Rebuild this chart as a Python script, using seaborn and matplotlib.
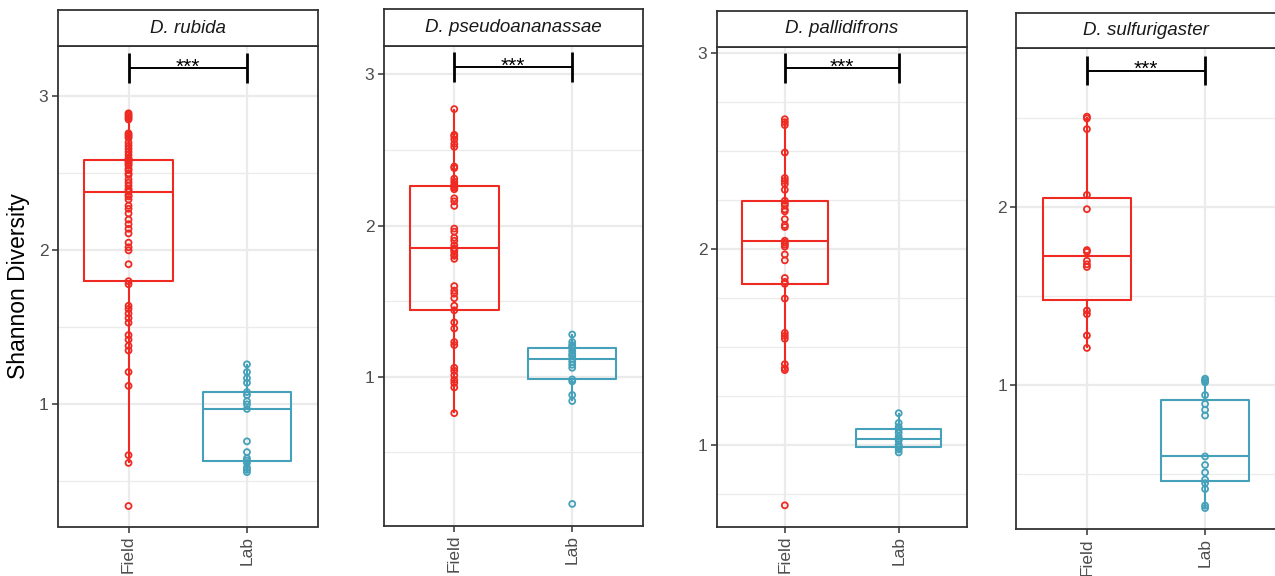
import numpy as np
import pandas as pd
import seaborn as sns
import matplotlib.pyplot as plt

# ---- data -------------------------------------------------------------
species = ["D. rubida", "D. pseudoananassae", "D. pallidifrons", "D. sulfurigaster"]
groups = ["Field", "Lab"]
signif_label = "***"
y_label = "Shannon Diversity"

rubida_field = [0.34, 0.62, 0.67, 1.12, 1.21, 1.35, 1.38, 1.42, 1.45, 1.53, 1.56, 1.59,
                1.62, 1.64, 1.78, 1.80, 1.91, 2.00, 2.02, 2.05, 2.11, 2.14, 2.17, 2.20,
                2.24, 2.27, 2.29, 2.33, 2.35, 2.36, 2.38, 2.39, 2.40, 2.42, 2.44, 2.46,
                2.49, 2.50, 2.52, 2.53, 2.55, 2.56, 2.57, 2.58, 2.585, 2.59, 2.60, 2.62,
                2.64, 2.66, 2.68, 2.70, 2.73, 2.74, 2.75, 2.76, 2.85, 2.86, 2.87, 2.88, 2.89]
rubida_lab = [0.56, 0.575, 0.59, 0.62, 0.635, 0.65, 0.69, 0.76, 0.97, 1.00, 1.02, 1.06,
              1.08, 1.14, 1.17, 1.21, 1.26]

pseudo_field = [0.76, 0.93, 0.96, 0.98, 1.01, 1.04, 1.06, 1.21, 1.23, 1.32, 1.36, 1.44,
                1.47, 1.52, 1.55, 1.57, 1.60, 1.78, 1.80, 1.81, 1.83, 1.84, 1.85,
                1.87, 1.90, 1.92, 1.96, 1.98, 2.13, 2.16, 2.18, 2.24, 2.25, 2.26,
                2.27, 2.29, 2.31, 2.38, 2.39, 2.52, 2.54, 2.57, 2.59, 2.60, 2.77]
pseudo_lab = [0.16, 0.84, 0.88, 0.97, 0.983, 1.06, 1.08, 1.10, 1.12, 1.14, 1.15, 1.17,
              1.19, 1.20, 1.21, 1.23, 1.28]

pallid_field = [0.69, 1.38, 1.39, 1.41, 1.54, 1.555, 1.57, 1.745, 1.82, 1.83, 1.85, 1.94,
                1.97, 2.01, 2.02, 2.03, 2.04, 2.11, 2.12, 2.15, 2.19, 2.20, 2.22, 2.23,
                2.244, 2.30, 2.33, 2.345, 2.36, 2.49, 2.63, 2.645, 2.66]
pallid_lab = [0.96, 0.975, 0.985, 0.99, 1.00, 1.02, 1.03, 1.04, 1.06, 1.077, 1.09, 1.11, 1.16]

sulfur_field = [1.21, 1.28, 1.40, 1.42, 1.665, 1.68, 1.70, 1.75, 1.76, 1.99, 2.07, 2.44,
                2.50, 2.51]
sulfur_lab = [0.31, 0.324, 0.417, 0.45, 0.47, 0.51, 0.552, 0.60, 0.83, 0.862, 0.895,
              0.945, 1.017, 1.027, 1.037]

field_values = [rubida_field, pseudo_field, pallid_field, sulfur_field]
lab_values = [rubida_lab, pseudo_lab, pallid_lab, sulfur_lab]

# ---- styling / layout ---------------------------------------------------
palette = {"Field": "#EE2A22", "Lab": "#44A1B9"}
W, H = 1275, 576
# panel pixel boxes: left, right, strip top, panel top, panel bottom
panel_px = [(57.5, 318.0, 10.3, 46.0, 526.5),
            (383.5, 643.0, 9.2, 46.0, 525.7),
            (716.5, 967.0, 11.0, 46.7, 526.5),
            (1016.0, 1276.0, 12.9, 47.8, 529.4)]
ylims = [(0.207, 3.327), (0.016, 3.187), (0.582, 3.03), (0.19, 2.897)]
minor_step = [0.5, 0.5, 0.25, 0.5]
bracket_y = [3.184, 3.046, 2.921, 2.769]
bracket_half = [0.095, 0.10, 0.075, 0.083]

sns.set_theme(style="white")
plt.rcParams["font.family"] = ["Liberation Sans", "DejaVu Sans"]

fig = plt.figure(figsize=(W / 100, H / 100), dpi=100)
fig.patch.set_facecolor("white")

border = "#333333"
grid_c = "#EBEBEB"

for i, sp in enumerate(species):
    l, r, st, pt, pb = panel_px[i]
    ax = fig.add_axes([l / W, 1 - pb / H, (r - l) / W, (pb - pt) / H])
    df = pd.DataFrame({
        "group": ["Field"] * len(field_values[i]) + ["Lab"] * len(lab_values[i]),
        "value": list(field_values[i]) + list(lab_values[i]),
    })
    sns.boxplot(data=df, x="group", y="value", hue="group", order=groups,
                hue_order=groups, palette=palette, fill=False, width=0.75,
                showcaps=False, showfliers=False, whis=1.5, linewidth=1.5,
                legend=False, ax=ax, zorder=2)
    n_before = len(ax.collections)
    sns.stripplot(data=df, x="group", y="value", hue="group", order=groups,
                  hue_order=groups, palette=palette, jitter=False, size=4.3,
                  linewidth=1.3, legend=False, ax=ax, zorder=3)
    for coll in ax.collections[n_before:]:
        fc = coll.get_facecolor()
        coll.set_edgecolor(fc)
        coll.set_facecolor("none")
        coll.set_linewidth(1.3)

    ax.set_xlim(-0.6, 1.6)
    y0, y1 = ylims[i]
    ax.set_ylim(y0, y1)

    # grid: integer majors, finer minors
    majors = [t for t in [0, 1, 2, 3] if y0 <= t <= y1]
    ax.set_yticks(majors)
    ax.set_yticklabels([str(t) for t in majors])
    step = minor_step[i]
    minors = [m for m in np.arange(0, 3.5, step) if y0 <= m <= y1 and abs(m - round(m)) > 1e-6]
    ax.set_yticks(minors, minor=True)
    ax.grid(True, which="major", axis="both", color=grid_c, linewidth=1.6)
    ax.grid(True, which="minor", axis="y", color=grid_c, linewidth=0.9)
    ax.set_axisbelow(True)

    ax.tick_params(axis="both", which="major", length=4.5, width=1.1, color=border,
                   labelcolor="#4D4D4D", labelsize=12.5, pad=2.0, left=True, bottom=True)
    ax.tick_params(axis="y", which="minor", length=0)
    ax.tick_params(axis="x", labelrotation=90)
    for s in ax.spines.values():
        s.set_color(border)
        s.set_linewidth(1.3)

    ax.set_xlabel("")
    if i == 0:
        ax.set_ylabel(y_label, fontsize=16.5, color="black")
        ax.yaxis.set_label_coords(-0.105, 0.5)
    else:
        ax.set_ylabel("")

    # significance bracket
    yb, hb = bracket_y[i], bracket_half[i]
    ax.plot([0, 1], [yb, yb], color="black", linewidth=1.4, solid_capstyle="butt", zorder=4)
    for xb in (0, 1):
        ax.plot([xb, xb], [yb - hb, yb + hb], color="black", linewidth=2.0,
                solid_capstyle="butt", zorder=4)
    ax.annotate(signif_label, xy=(0.5, yb), xytext=(0, 0.8), textcoords="offset points",
                ha="center", va="center", fontsize=15, color="black", zorder=5)

    # facet strip
    sax = fig.add_axes([l / W, 1 - pt / H, (r - l) / W, (pt - st) / H])
    sax.set_xticks([])
    sax.set_yticks([])
    sax.set_facecolor("white")
    for s in sax.spines.values():
        s.set_color(border)
        s.set_linewidth(1.3)
    sax.text(0.5, 0.5, sp, ha="center", va="center", fontsize=13.5, style="italic",
             color="#1A1A1A", transform=sax.transAxes)

fig.savefig("out.png", dpi=100, facecolor="white")
